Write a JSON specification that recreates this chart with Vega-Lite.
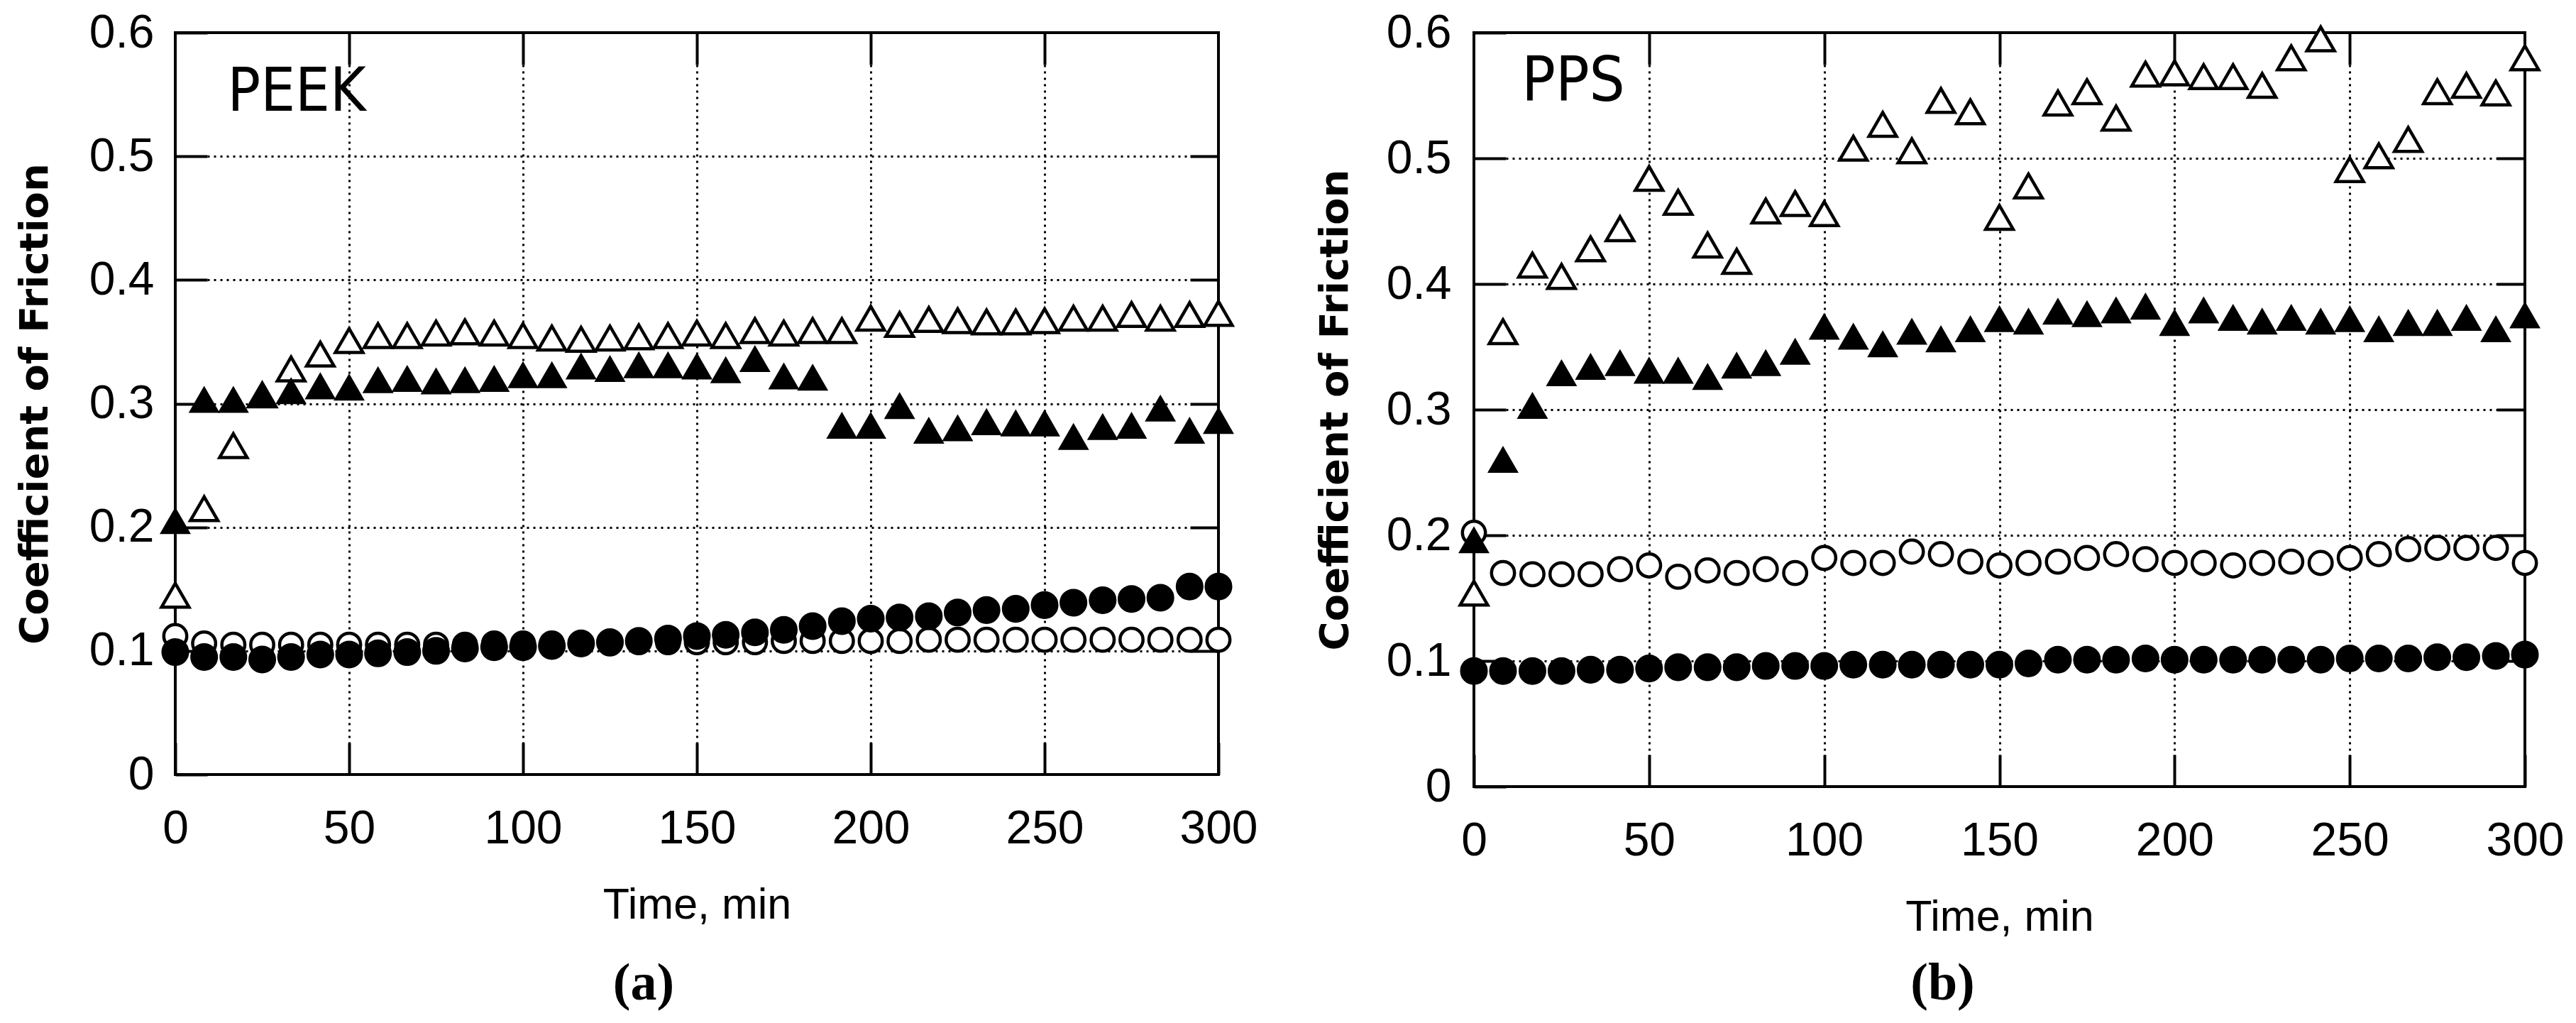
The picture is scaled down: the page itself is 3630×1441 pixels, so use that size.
{
  "$schema": "https://vega.github.io/schema/vega-lite/v6.json",
  "background": "white",
  "padding": {"left": 19, "top": 11, "right": 10, "bottom": 5},
  "spacing": 360,
  "bounds": "flush",
  "datasets": {
    "peek": [
      {"time": 0, "open_tri": 0.145, "filled_tri": 0.205, "open_circ": 0.112, "filled_circ": 0.099},
      {"time": 8.3, "open_tri": 0.215, "filled_tri": 0.303, "open_circ": 0.106, "filled_circ": 0.095},
      {"time": 16.7, "open_tri": 0.266, "filled_tri": 0.303, "open_circ": 0.105, "filled_circ": 0.095},
      {"time": 25, "open_tri": 0.307, "filled_tri": 0.307, "open_circ": 0.105, "filled_circ": 0.093},
      {"time": 33.3, "open_tri": 0.328, "filled_tri": 0.31, "open_circ": 0.105, "filled_circ": 0.095},
      {"time": 41.7, "open_tri": 0.34, "filled_tri": 0.314, "open_circ": 0.105, "filled_circ": 0.097},
      {"time": 50, "open_tri": 0.351, "filled_tri": 0.313, "open_circ": 0.105, "filled_circ": 0.097},
      {"time": 58.3, "open_tri": 0.355, "filled_tri": 0.319, "open_circ": 0.105, "filled_circ": 0.098},
      {"time": 66.7, "open_tri": 0.355, "filled_tri": 0.32, "open_circ": 0.105, "filled_circ": 0.099},
      {"time": 75, "open_tri": 0.357, "filled_tri": 0.318, "open_circ": 0.105, "filled_circ": 0.1},
      {"time": 83.3, "open_tri": 0.358, "filled_tri": 0.319, "open_circ": 0.105, "filled_circ": 0.102},
      {"time": 91.7, "open_tri": 0.357, "filled_tri": 0.32, "open_circ": 0.106, "filled_circ": 0.103},
      {"time": 100, "open_tri": 0.355, "filled_tri": 0.323, "open_circ": 0.106, "filled_circ": 0.103},
      {"time": 108.3, "open_tri": 0.353, "filled_tri": 0.323, "open_circ": 0.106, "filled_circ": 0.104},
      {"time": 116.7, "open_tri": 0.352, "filled_tri": 0.33, "open_circ": 0.106, "filled_circ": 0.106},
      {"time": 125, "open_tri": 0.353, "filled_tri": 0.328, "open_circ": 0.106, "filled_circ": 0.107},
      {"time": 133.3, "open_tri": 0.354, "filled_tri": 0.331, "open_circ": 0.107, "filled_circ": 0.108},
      {"time": 141.7, "open_tri": 0.355, "filled_tri": 0.331, "open_circ": 0.107, "filled_circ": 0.11},
      {"time": 150, "open_tri": 0.357, "filled_tri": 0.33, "open_circ": 0.107, "filled_circ": 0.112},
      {"time": 158.3, "open_tri": 0.355, "filled_tri": 0.327, "open_circ": 0.107, "filled_circ": 0.113},
      {"time": 166.7, "open_tri": 0.359, "filled_tri": 0.336, "open_circ": 0.107, "filled_circ": 0.115},
      {"time": 175, "open_tri": 0.357, "filled_tri": 0.322, "open_circ": 0.108, "filled_circ": 0.117},
      {"time": 183.3, "open_tri": 0.359, "filled_tri": 0.321, "open_circ": 0.108, "filled_circ": 0.12},
      {"time": 191.7, "open_tri": 0.359, "filled_tri": 0.282, "open_circ": 0.108, "filled_circ": 0.124},
      {"time": 200, "open_tri": 0.369, "filled_tri": 0.282, "open_circ": 0.108, "filled_circ": 0.126},
      {"time": 208.3, "open_tri": 0.364, "filled_tri": 0.298, "open_circ": 0.108, "filled_circ": 0.127},
      {"time": 216.7, "open_tri": 0.368, "filled_tri": 0.278, "open_circ": 0.109, "filled_circ": 0.128},
      {"time": 225, "open_tri": 0.367, "filled_tri": 0.28, "open_circ": 0.109, "filled_circ": 0.131},
      {"time": 233.3, "open_tri": 0.366, "filled_tri": 0.285, "open_circ": 0.109, "filled_circ": 0.133},
      {"time": 241.7, "open_tri": 0.366, "filled_tri": 0.284, "open_circ": 0.109, "filled_circ": 0.134},
      {"time": 250, "open_tri": 0.367, "filled_tri": 0.284, "open_circ": 0.109, "filled_circ": 0.137},
      {"time": 258.3, "open_tri": 0.369, "filled_tri": 0.273, "open_circ": 0.109, "filled_circ": 0.139},
      {"time": 266.7, "open_tri": 0.369, "filled_tri": 0.281, "open_circ": 0.109, "filled_circ": 0.141},
      {"time": 275, "open_tri": 0.372, "filled_tri": 0.282, "open_circ": 0.109, "filled_circ": 0.142},
      {"time": 283.3, "open_tri": 0.369, "filled_tri": 0.296, "open_circ": 0.109, "filled_circ": 0.143},
      {"time": 291.7, "open_tri": 0.372, "filled_tri": 0.278, "open_circ": 0.109, "filled_circ": 0.152},
      {"time": 300, "open_tri": 0.373, "filled_tri": 0.286, "open_circ": 0.109, "filled_circ": 0.152}
    ],
    "pps": [
      {"time": 0, "open_tri": 0.154, "filled_tri": 0.196, "open_circ": 0.202, "filled_circ": 0.092},
      {"time": 8.3, "open_tri": 0.362, "filled_tri": 0.26, "open_circ": 0.17, "filled_circ": 0.092},
      {"time": 16.7, "open_tri": 0.415, "filled_tri": 0.303, "open_circ": 0.169, "filled_circ": 0.092},
      {"time": 25, "open_tri": 0.406, "filled_tri": 0.329, "open_circ": 0.169, "filled_circ": 0.092},
      {"time": 33.3, "open_tri": 0.428, "filled_tri": 0.334, "open_circ": 0.169, "filled_circ": 0.093},
      {"time": 41.7, "open_tri": 0.444, "filled_tri": 0.337, "open_circ": 0.173, "filled_circ": 0.093},
      {"time": 50, "open_tri": 0.484, "filled_tri": 0.331, "open_circ": 0.176, "filled_circ": 0.094},
      {"time": 58.3, "open_tri": 0.465, "filled_tri": 0.331, "open_circ": 0.167, "filled_circ": 0.095},
      {"time": 66.7, "open_tri": 0.431, "filled_tri": 0.326, "open_circ": 0.172, "filled_circ": 0.095},
      {"time": 75, "open_tri": 0.418, "filled_tri": 0.335, "open_circ": 0.17, "filled_circ": 0.095},
      {"time": 83.3, "open_tri": 0.458, "filled_tri": 0.337, "open_circ": 0.173, "filled_circ": 0.096},
      {"time": 91.7, "open_tri": 0.464, "filled_tri": 0.346, "open_circ": 0.17, "filled_circ": 0.096},
      {"time": 100, "open_tri": 0.456, "filled_tri": 0.366, "open_circ": 0.182, "filled_circ": 0.096},
      {"time": 108.3, "open_tri": 0.508, "filled_tri": 0.358, "open_circ": 0.178, "filled_circ": 0.097},
      {"time": 116.7, "open_tri": 0.527, "filled_tri": 0.352, "open_circ": 0.178, "filled_circ": 0.097},
      {"time": 125, "open_tri": 0.506, "filled_tri": 0.362, "open_circ": 0.187, "filled_circ": 0.097},
      {"time": 133.3, "open_tri": 0.546, "filled_tri": 0.356, "open_circ": 0.185, "filled_circ": 0.097},
      {"time": 141.7, "open_tri": 0.537, "filled_tri": 0.364, "open_circ": 0.179, "filled_circ": 0.097},
      {"time": 150, "open_tri": 0.453, "filled_tri": 0.372, "open_circ": 0.176, "filled_circ": 0.097},
      {"time": 158.3, "open_tri": 0.478, "filled_tri": 0.37, "open_circ": 0.178, "filled_circ": 0.098},
      {"time": 166.7, "open_tri": 0.544, "filled_tri": 0.378, "open_circ": 0.179, "filled_circ": 0.101},
      {"time": 175, "open_tri": 0.553, "filled_tri": 0.376, "open_circ": 0.182, "filled_circ": 0.101},
      {"time": 183.3, "open_tri": 0.532, "filled_tri": 0.379, "open_circ": 0.185, "filled_circ": 0.101},
      {"time": 191.7, "open_tri": 0.567, "filled_tri": 0.382, "open_circ": 0.181, "filled_circ": 0.102},
      {"time": 200, "open_tri": 0.568, "filled_tri": 0.369, "open_circ": 0.178, "filled_circ": 0.101},
      {"time": 208.3, "open_tri": 0.565, "filled_tri": 0.379, "open_circ": 0.178, "filled_circ": 0.101},
      {"time": 216.7, "open_tri": 0.565, "filled_tri": 0.373, "open_circ": 0.176, "filled_circ": 0.101},
      {"time": 225, "open_tri": 0.558, "filled_tri": 0.37, "open_circ": 0.178, "filled_circ": 0.101},
      {"time": 233.3, "open_tri": 0.58, "filled_tri": 0.373, "open_circ": 0.179, "filled_circ": 0.101},
      {"time": 241.7, "open_tri": 0.595, "filled_tri": 0.37, "open_circ": 0.178, "filled_circ": 0.101},
      {"time": 250, "open_tri": 0.491, "filled_tri": 0.372, "open_circ": 0.182, "filled_circ": 0.102},
      {"time": 258.3, "open_tri": 0.502, "filled_tri": 0.364, "open_circ": 0.185, "filled_circ": 0.102},
      {"time": 266.7, "open_tri": 0.515, "filled_tri": 0.369, "open_circ": 0.189, "filled_circ": 0.102},
      {"time": 275, "open_tri": 0.553, "filled_tri": 0.369, "open_circ": 0.19, "filled_circ": 0.103},
      {"time": 283.3, "open_tri": 0.558, "filled_tri": 0.373, "open_circ": 0.19, "filled_circ": 0.103},
      {"time": 291.7, "open_tri": 0.552, "filled_tri": 0.364, "open_circ": 0.19, "filled_circ": 0.104},
      {"time": 300, "open_tri": 0.58, "filled_tri": 0.375, "open_circ": 0.178, "filled_circ": 0.105}
    ]
  },
  "hconcat": [
    {
      "width": 1470,
      "height": 1045,
      "title": {"text": "(a)", "orient": "bottom", "font": "Liberation Serif", "fontSize": 74, "fontWeight": "bold", "color": "black", "offset": 45, "dx": -75, "anchor": "middle"},
      "resolve": {"axis": {"x": "independent", "y": "independent"}},
      "layer": [
        {
          "data": {"name": "peek"},
          "mark": {"type": "point", "shape": "triangle-up", "filled": true, "fill": "white", "stroke": "black", "strokeWidth": 4.5, "size": 1500, "opacity": 1},
          "encoding": {
            "x": {"field": "time", "type": "quantitative", "scale": {"domain": [0, 300], "nice": false},
              "axis": {"orient": "bottom", "values": [0, 50, 100, 150, 200, 250, 300], "grid": true, "labelPadding": 89, "labelFlush": false, "labelOverlap": false, "title": "Time, min", "titleFont": "Liberation Sans", "titleFontSize": 61, "titleFontWeight": "normal", "titlePadding": 45}},
            "y": {"field": "open_tri", "type": "quantitative", "scale": {"domain": [0, 0.6], "nice": false},
              "axis": {"orient": "left", "values": [0, 0.1, 0.2, 0.3, 0.4, 0.5, 0.6], "grid": true, "labelExpr": "datum.value == 0 ? '0' : format(datum.value, '.1f')", "labelPadding": 75, "labelFlush": false, "labelOverlap": false, "title": "Coefficient of Friction", "titleFont": "DejaVu Sans", "titleFontWeight": "bold", "titleFontSize": 56, "titlePadding": 47}}
          }
        },
        {
          "data": {"name": "peek"},
          "mark": {"type": "point", "shape": "circle", "filled": true, "fill": "white", "stroke": "black", "strokeWidth": 4.5, "size": 1050, "opacity": 1},
          "encoding": {
            "x": {"field": "time", "type": "quantitative", "scale": {"domain": [0, 300], "nice": false}, "axis": null},
            "y": {"field": "open_circ", "type": "quantitative", "scale": {"domain": [0, 0.6], "nice": false}, "axis": null}
          }
        },
        {
          "data": {"name": "peek"},
          "mark": {"type": "point", "shape": "triangle-up", "filled": true, "fill": "black", "stroke": "black", "strokeWidth": 3, "size": 1500, "opacity": 1},
          "encoding": {
            "x": {"field": "time", "type": "quantitative", "scale": {"domain": [0, 300], "nice": false}, "axis": null},
            "y": {"field": "filled_tri", "type": "quantitative", "scale": {"domain": [0, 0.6], "nice": false}, "axis": null}
          }
        },
        {
          "data": {"name": "peek"},
          "mark": {"type": "point", "shape": "circle", "filled": true, "fill": "black", "stroke": "black", "strokeWidth": 3, "size": 1300, "opacity": 1},
          "encoding": {
            "x": {"field": "time", "type": "quantitative", "scale": {"domain": [0, 300], "nice": false}, "axis": null},
            "y": {"field": "filled_circ", "type": "quantitative", "scale": {"domain": [0, 0.6], "nice": false}, "axis": null}
          }
        },
        {
          "data": {"values": [{"label": "PEEK", "time": 15, "cof": 0.537}]},
          "mark": {"type": "text", "align": "left", "baseline": "alphabetic", "font": "Liberation Sans Narrow, DejaVu Sans Condensed, sans-serif", "fontSize": 86, "color": "black"},
          "encoding": {
            "x": {"field": "time", "type": "quantitative", "scale": {"domain": [0, 300], "nice": false},
              "axis": {"orient": "top", "values": [50, 100, 150, 200, 250], "grid": false, "labels": false, "title": null, "tickSize": -45}},
            "y": {"field": "cof", "type": "quantitative", "scale": {"domain": [0, 0.6], "nice": false},
              "axis": {"orient": "right", "values": [0.1, 0.2, 0.3, 0.4, 0.5], "grid": false, "labels": false, "title": null, "tickSize": -40}},
            "text": {"field": "label"}
          }
        }
      ]
    },
    {
      "width": 1481,
      "height": 1062,
      "title": {"text": "(b)", "orient": "bottom", "font": "Liberation Serif", "fontSize": 74, "fontWeight": "bold", "color": "black", "offset": 28, "dx": -80, "anchor": "middle"},
      "resolve": {"axis": {"x": "independent", "y": "independent"}},
      "layer": [
        {
          "data": {"name": "pps"},
          "mark": {"type": "point", "shape": "triangle-up", "filled": true, "fill": "white", "stroke": "black", "strokeWidth": 4.5, "size": 1500, "opacity": 1},
          "encoding": {
            "x": {"field": "time", "type": "quantitative", "scale": {"domain": [0, 300], "nice": false},
              "axis": {"orient": "bottom", "values": [0, 50, 100, 150, 200, 250, 300], "grid": true, "labelPadding": 89, "labelFlush": false, "labelOverlap": false, "title": "Time, min", "titleFont": "Liberation Sans", "titleFontSize": 61, "titleFontWeight": "normal", "titlePadding": 45}},
            "y": {"field": "open_tri", "type": "quantitative", "scale": {"domain": [0, 0.6], "nice": false},
              "axis": {"orient": "left", "values": [0, 0.1, 0.2, 0.3, 0.4, 0.5, 0.6], "grid": true, "labelExpr": "datum.value == 0 ? '0' : format(datum.value, '.1f')", "labelPadding": 77, "labelFlush": false, "labelOverlap": false, "title": "Coefficient of Friction", "titleFont": "DejaVu Sans", "titleFontWeight": "bold", "titleFontSize": 56, "titlePadding": 43}}
          }
        },
        {
          "data": {"name": "pps"},
          "mark": {"type": "point", "shape": "circle", "filled": true, "fill": "white", "stroke": "black", "strokeWidth": 4.5, "size": 1050, "opacity": 1},
          "encoding": {
            "x": {"field": "time", "type": "quantitative", "scale": {"domain": [0, 300], "nice": false}, "axis": null},
            "y": {"field": "open_circ", "type": "quantitative", "scale": {"domain": [0, 0.6], "nice": false}, "axis": null}
          }
        },
        {
          "data": {"name": "pps"},
          "mark": {"type": "point", "shape": "triangle-up", "filled": true, "fill": "black", "stroke": "black", "strokeWidth": 3, "size": 1500, "opacity": 1},
          "encoding": {
            "x": {"field": "time", "type": "quantitative", "scale": {"domain": [0, 300], "nice": false}, "axis": null},
            "y": {"field": "filled_tri", "type": "quantitative", "scale": {"domain": [0, 0.6], "nice": false}, "axis": null}
          }
        },
        {
          "data": {"name": "pps"},
          "mark": {"type": "point", "shape": "circle", "filled": true, "fill": "black", "stroke": "black", "strokeWidth": 3, "size": 1300, "opacity": 1},
          "encoding": {
            "x": {"field": "time", "type": "quantitative", "scale": {"domain": [0, 300], "nice": false}, "axis": null},
            "y": {"field": "filled_circ", "type": "quantitative", "scale": {"domain": [0, 0.6], "nice": false}, "axis": null}
          }
        },
        {
          "data": {"values": [{"label": "PPS", "time": 13.6, "cof": 0.546}]},
          "mark": {"type": "text", "align": "left", "baseline": "alphabetic", "font": "Liberation Sans Narrow, DejaVu Sans Condensed, sans-serif", "fontSize": 88, "color": "black"},
          "encoding": {
            "x": {"field": "time", "type": "quantitative", "scale": {"domain": [0, 300], "nice": false},
              "axis": {"orient": "top", "values": [50, 100, 150, 200, 250], "grid": false, "labels": false, "title": null, "tickSize": -45}},
            "y": {"field": "cof", "type": "quantitative", "scale": {"domain": [0, 0.6], "nice": false},
              "axis": {"orient": "right", "values": [0.1, 0.2, 0.3, 0.4, 0.5], "grid": false, "labels": false, "title": null, "tickSize": -40}},
            "text": {"field": "label"}
          }
        }
      ]
    }
  ],
  "config": {
    "view": {"stroke": "black", "strokeWidth": 4},
    "axis": {
      "domain": false,
      "gridColor": "black",
      "gridDash": [3, 6],
      "gridWidth": 3,
      "gridOpacity": 1,
      "tickColor": "black",
      "tickWidth": 4,
      "tickSize": -45,
      "tickOpacity": 1,
      "labelFont": "Liberation Sans",
      "labelFontSize": 66,
      "labelColor": "black",
      "titleColor": "black"
    }
  }
}
